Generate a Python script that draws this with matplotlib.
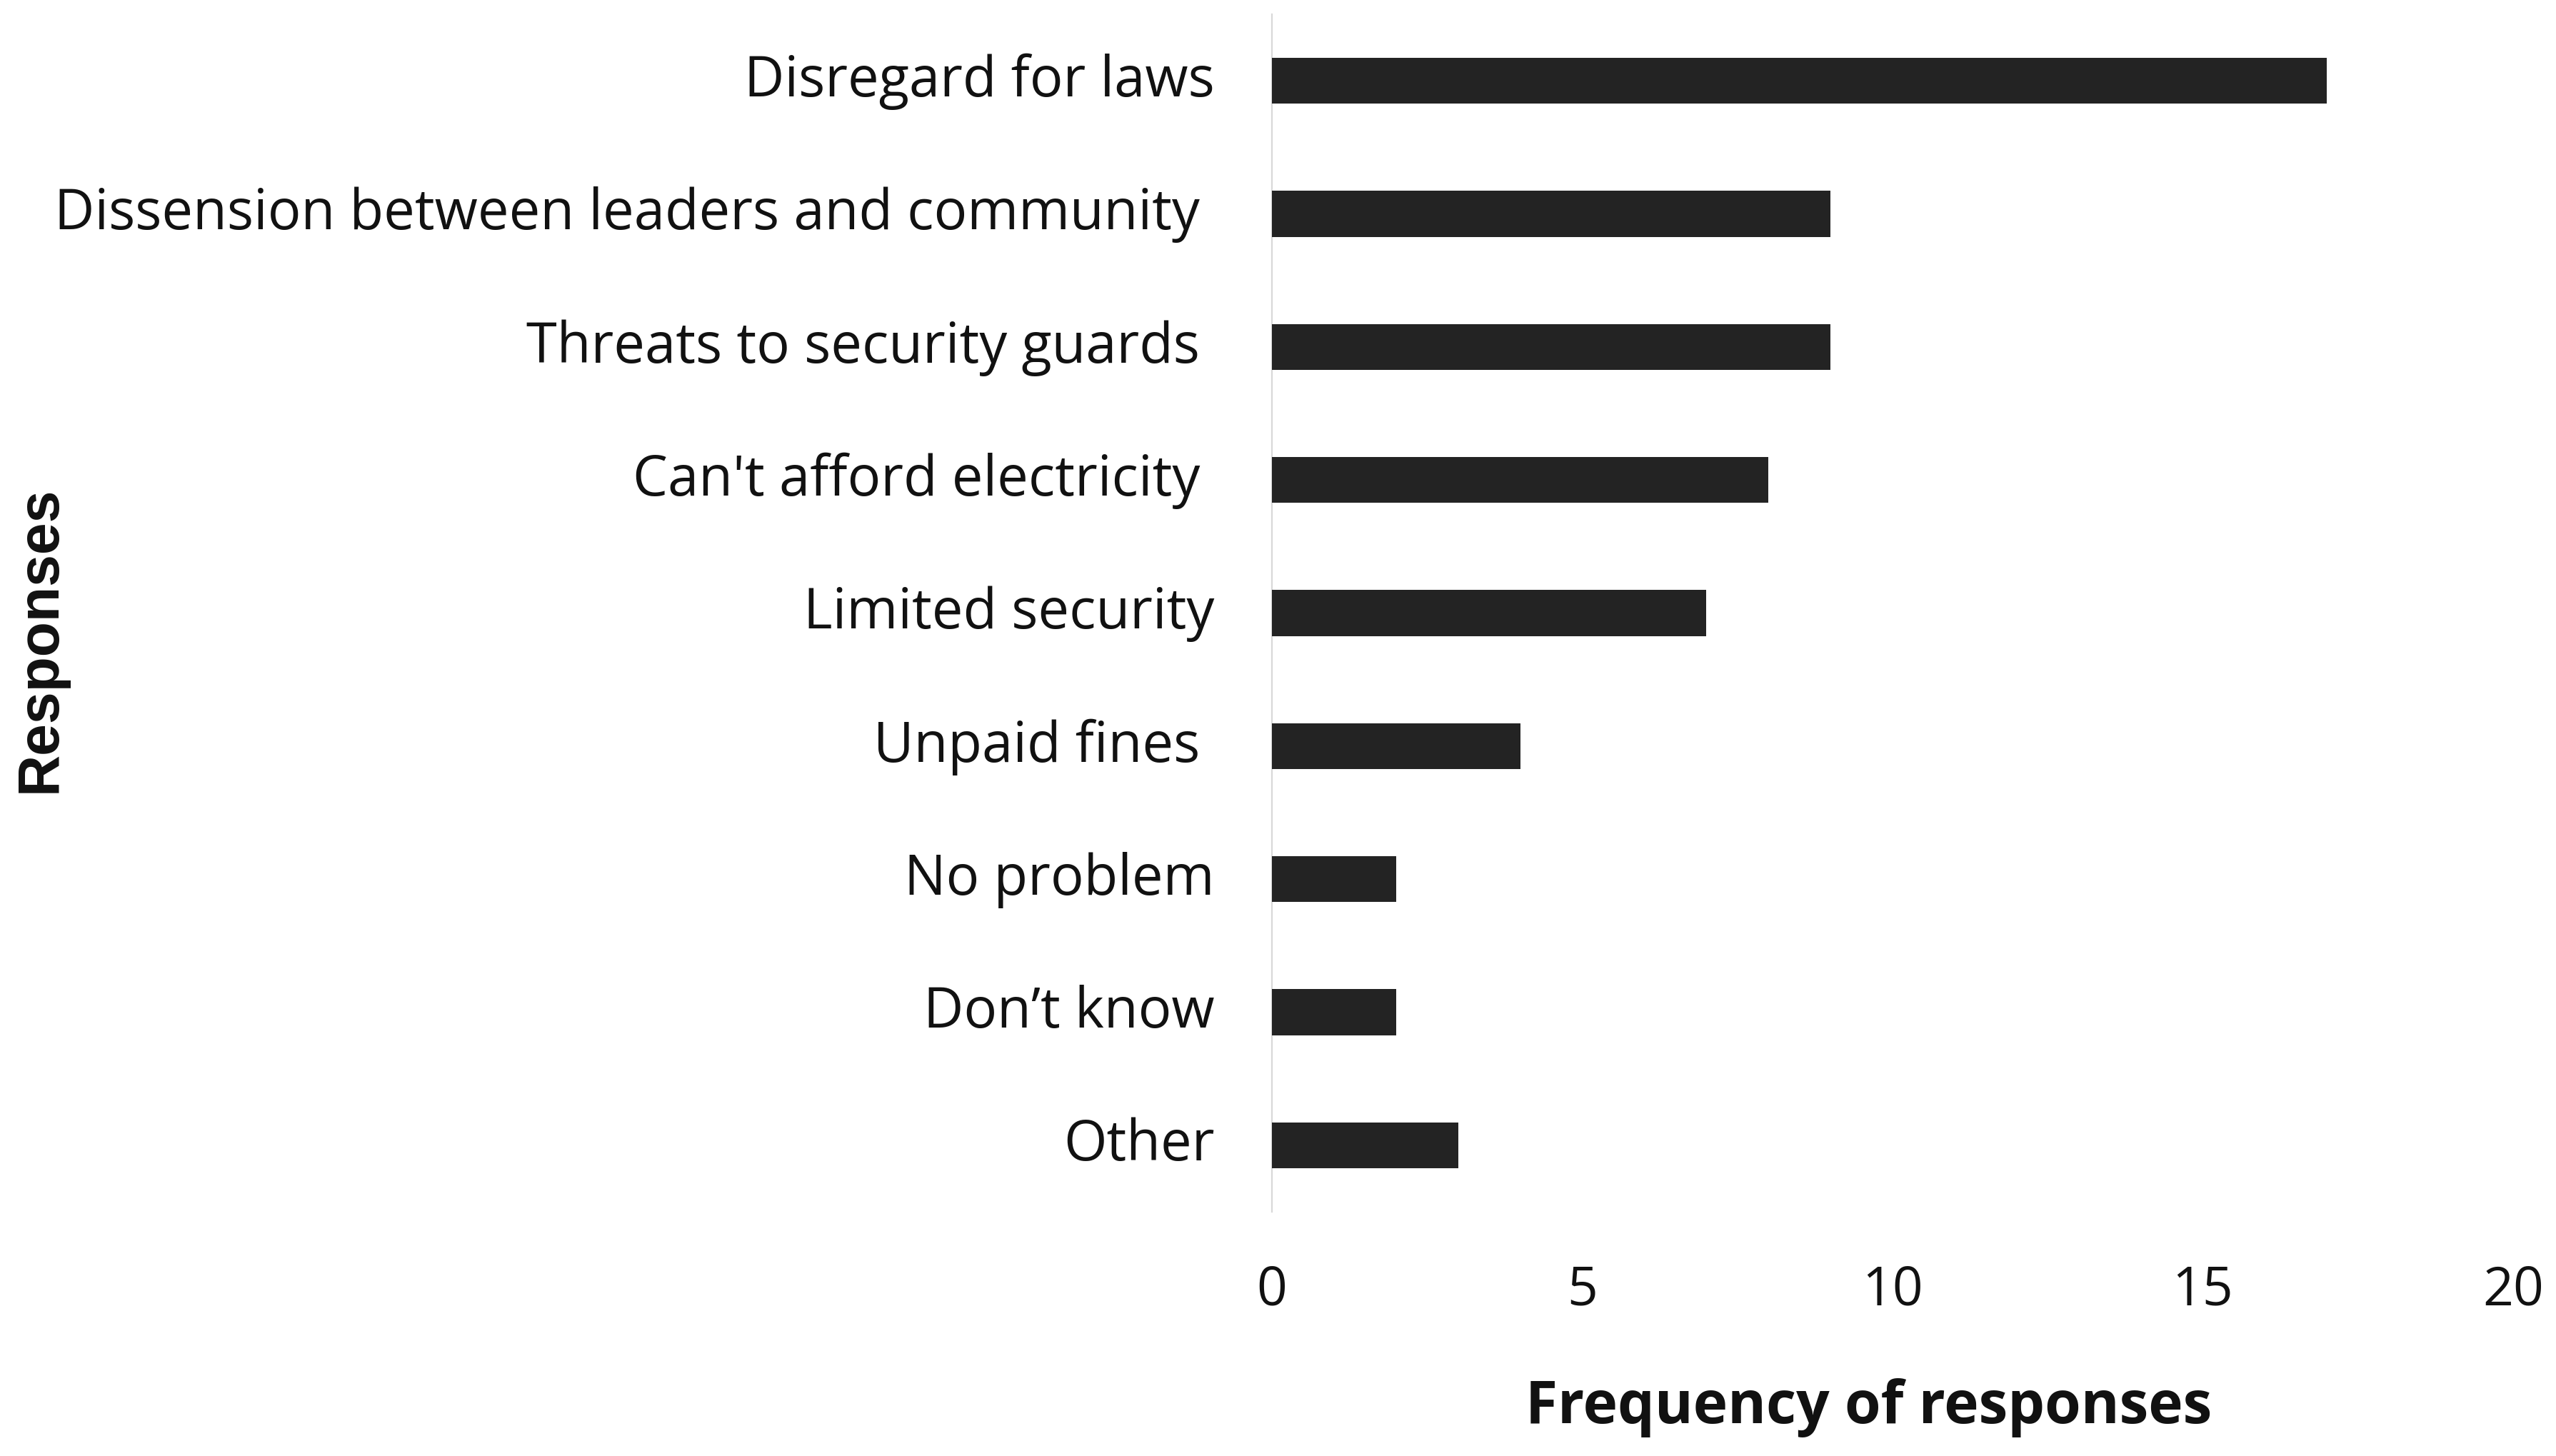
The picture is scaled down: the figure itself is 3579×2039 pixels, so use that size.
import matplotlib
matplotlib.use("Agg")
import matplotlib.pyplot as plt

categories = [
    "Disregard for laws",
    "Dissension between leaders and community ",
    "Threats to security guards ",
    "Can't afford electricity ",
    "Limited security",
    "Unpaid fines ",
    "No problem",
    "Don\u2019t know",
    "Other",
]
values = [17, 9, 9, 8, 7, 4, 2, 2, 3]
xticks = [0, 5, 10, 15, 20]

W, H = 3579, 2040
fig = plt.figure(figsize=(W / 100, H / 100), dpi=100)
ax = fig.add_axes([1781 / W, 1 - 1698 / H, (3519 - 1781) / W, (1698 - 21) / H])

pos = list(range(len(categories)))
ax.barh(pos, values, height=0.345, color="#232323", zorder=3)
ax.set_ylim(len(categories) - 0.5, -0.5)
ax.set_xlim(0, 20)
ax.set_yticks(pos)
ax.set_yticklabels(categories, fontfamily="Open Sans", fontsize=56, color="#111111")
ax.set_xticks(xticks)
ax.set_xticklabels([str(t) for t in xticks], fontfamily="Open Sans", fontsize=54, color="#111111")
ax.tick_params(axis="y", length=0, pad=58)
ax.tick_params(axis="x", length=0, pad=52)
for lab in ax.get_yticklabels():
    lab.set_verticalalignment("center")
for s in ["top", "right", "bottom"]:
    ax.spines[s].set_visible(False)
ax.spines["left"].set_color("#d9d9d9")
ax.spines["left"].set_linewidth(1.6)

fig.text(2617 / W, 1 - 1972 / H, "Frequency of responses", fontfamily="Open Sans",
         fontweight="bold", fontsize=59, ha="center", va="center", color="#111111")
fig.text(57 / W, 1 - 895 / H, "Responses", fontfamily="Liberation Sans",
         fontweight="bold", fontsize=58, rotation=90, ha="center", va="center", color="#111111")

fig.savefig("out.png", dpi=100, facecolor="white")
